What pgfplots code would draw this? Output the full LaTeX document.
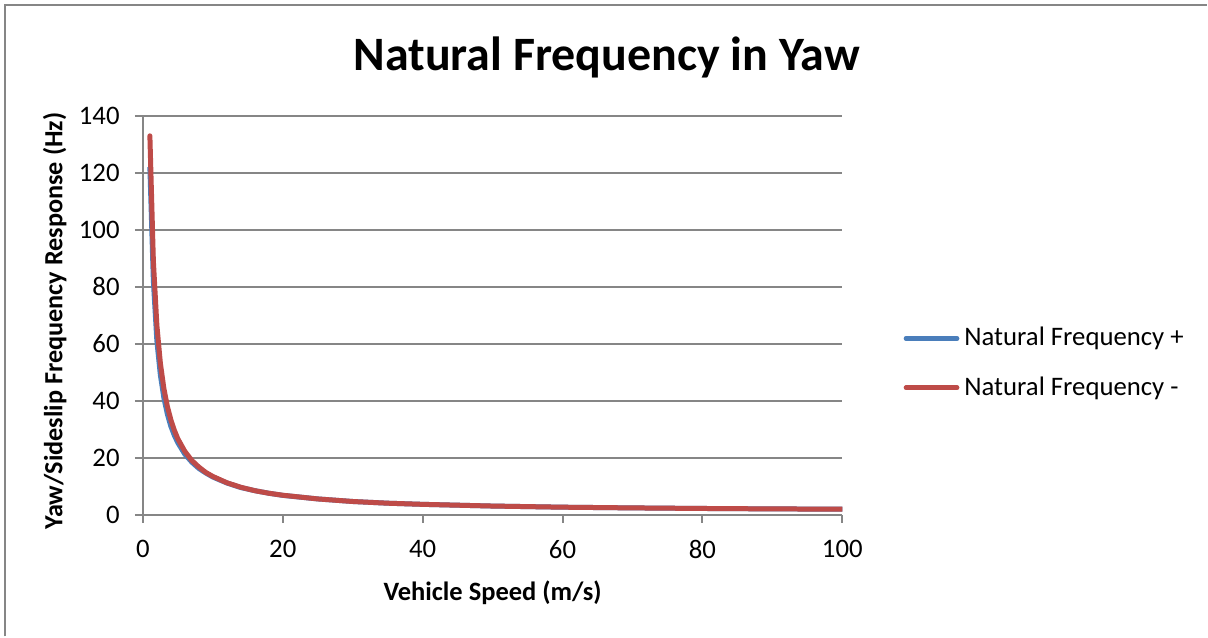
\documentclass[border=0pt]{standalone}
\usepackage{pgfplots}
\pgfplotsset{compat=1.18}
\usepackage{fontspec}
\setmainfont{Carlito}
\definecolor{xlblue}{HTML}{4A7EBB}
\definecolor{xlred}{HTML}{BE4B48}
\definecolor{xlgrid}{HTML}{868686}
\begin{document}
\begin{tikzpicture}
\path (0,0) rectangle (483.2pt,-254.8pt);
\draw[xlgrid, line width=0.8pt] (2pt,-254.8pt) -- (2pt,-1.9pt) -- (483.2pt,-1.9pt);
\begin{axis}[
  at={(57.2pt,-206pt)}, anchor=south west,
  scale only axis, width=280pt, height=159.6pt,
  xmin=0, xmax=100, ymin=0, ymax=140,
  xtick={0,20,...,100}, ytick={0,20,...,140},
  axis lines=left, axis line style={-, xlgrid, line width=0.8pt},
  tick align=outside, major tick length=3.2pt,
  tick style={xlgrid, line width=0.8pt},
  ymajorgrids, grid style={xlgrid, line width=0.8pt},
  /pgf/number format/assume math mode=true,
  ticklabel style={font=\fontsize{10.7}{12.8}\selectfont},
  yticklabel style={xshift=-2.6pt},
  xticklabel style={yshift=-3.6pt},
  title={Natural Frequency in Yaw},
  title style={at={(0.663,1.11)}, anchor=center, font=\fontsize{19.2}{23}\selectfont\bfseries},
  xlabel={Vehicle Speed (m/s)},
  ylabel={Yaw/Sideslip Frequency Response (Hz)},
  xlabel style={at={(0.5,-0.195)}, anchor=center, font=\fontsize{10.6}{12.7}\selectfont\bfseries},
  ylabel style={at={(-0.126,0.485)}, anchor=center, rotate=0, font=\fontsize{10.5}{12.6}\selectfont\bfseries},
  legend style={at={(1.087,0.38)}, anchor=west, draw=none, fill=none,
    font=\fontsize{10.7}{12.8}\selectfont, row sep=6.8pt, inner sep=0pt},
  legend cell align=left,
  legend image code/.code={\draw[#1, line width=1.8pt, line cap=round] (0pt,0pt) -- (20.5pt,0pt);},
]
\addplot[xlblue, line width=2pt, line join=round] coordinates {
(1,122) (1.5,82) (2,61) (2.5,49) (3,41) (3.5,35.3) (4,31) (4.5,27.8) (5,25.2) (6,21.2) (7,18.4) (8,16.2) (9,14.6) (10,13.2)
(12,11.1) (14,9.5) (16,8.4) (18,7.5) (20,6.75) (25,5.5) (30,4.6) (35,4.0) (40,3.6) (45,3.3) (50,3.0)
(60,2.6) (70,2.35) (80,2.15) (90,2.0) (100,1.9)
};
\addlegendentry{Natural Frequency +}
\addplot[xlred, line width=2pt, line join=round, line cap=round] coordinates {
(1,133) (1.5,89) (2,66.5) (2.5,53.2) (3,44.3) (3.5,38) (4,33.3) (4.5,29.6) (5,26.6) (6,22.2) (7,19) (8,16.7) (9,14.8) (10,13.4)
(12,11.2) (14,9.6) (16,8.4) (18,7.5) (20,6.8) (25,5.5) (30,4.6) (35,4.0) (40,3.6) (45,3.3) (50,3.0)
(60,2.6) (70,2.35) (80,2.15) (90,2.0) (100,1.9)
};
\addlegendentry{Natural Frequency -}
\end{axis}
\end{tikzpicture}
\end{document}
